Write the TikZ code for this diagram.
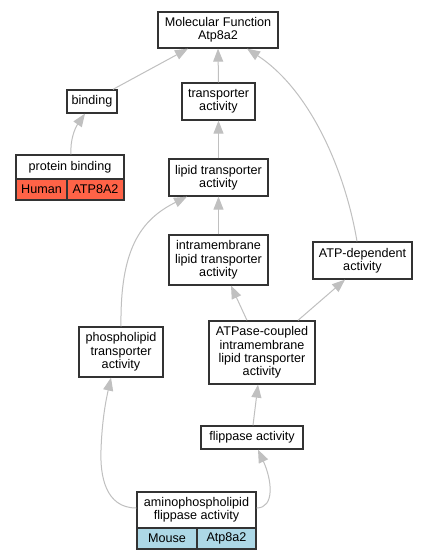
\documentclass[tikz,border=0pt]{standalone}
\usepackage{fontspec}
\setmainfont{Liberation Sans}
\usetikzlibrary{arrows.meta}
\definecolor{edgegray}{HTML}{C0C0C0}
\definecolor{boxline}{HTML}{333333}
\definecolor{human}{HTML}{FF6347}
\definecolor{mouse}{HTML}{ADD8E6}
\tikzset{
  gobox/.style={draw=boxline, line width=1.3pt, fill=white, inner sep=0pt, align=center,
    font=\fontsize{12.6}{13.4}\selectfont},
  cell/.style={gobox, line width=1.1pt},
  edge/.style={draw=edgegray, line width=1pt, -{Triangle[length=13pt,width=10pt]}, color=edgegray},
}
\begin{document}
\begin{tikzpicture}[x=1pt,y=-1pt]
\useasboundingbox (0,0) rectangle (428,560);
\fill[white] (0,0) rectangle (428,560);
% nodes
\node[gobox, minimum width=120pt, minimum height=36pt] (mf) at (218,30) {Molecular Function\\Atp8a2};
\node[gobox, minimum width=50pt, minimum height=23pt] (binding) at (92,101.5) {binding};
\node[gobox, minimum width=73pt, minimum height=37pt] (transp) at (218.5,101.5) {transporter\\activity};
\node[gobox, minimum width=108pt, minimum height=24pt] (pbind) at (70,167) {protein binding};
\node[cell, fill=human, minimum width=51pt, minimum height=21pt] (human) at (41.5,189.5) {Human};
\node[cell, fill=human, minimum width=57pt, minimum height=21pt] (hgene) at (95.5,189.5) {ATP8A2};
\node[gobox, minimum width=99pt, minimum height=37pt] (lipid) at (218.5,177.5) {lipid transporter\\activity};
\node[gobox, minimum width=99pt, minimum height=50pt] (intra) at (218.5,260) {intramembrane\\lipid transporter\\activity};
\node[gobox, minimum width=99pt, minimum height=37pt] (atpdep) at (362.5,260.5) {ATP-dependent\\activity};
\node[gobox, minimum width=84pt, minimum height=50pt] (phos) at (121,352) {phospholipid\\transporter\\activity};
\node[gobox, minimum width=106pt, minimum height=63pt] (atpase) at (262,352.5) {ATPase-coupled\\intramembrane\\lipid transporter\\activity};
\node[gobox, minimum width=102pt, minimum height=23pt] (flip) at (252,437.5) {flippase activity};
\node[gobox, minimum width=119pt, minimum height=36pt] (amino) at (196.5,510) {aminophospholipid\\flippase activity};
\node[cell, fill=mouse, minimum width=60pt, minimum height=21pt] (mouse) at (167,538.5) {Mouse};
\node[cell, fill=mouse, minimum width=59pt, minimum height=21pt] (mgene) at (226.5,538.5) {Atp8a2};
% edges
\draw[edge] ([xshift=21pt]binding.north) -- ([xshift=-30pt]mf.south);
\draw[edge] (transp.north) -- (mf.south);
\draw[edge] ([xshift=-5.5pt]atpdep.north) .. controls (345,170) and (310,90) .. ([xshift=29pt]mf.south);
\draw[edge] ([xshift=1pt]pbind.north) .. controls (70,140) and (75,128) .. ([xshift=-7pt]binding.south);
\draw[edge] (lipid.north) -- (transp.south);
\draw[edge] (intra.north) -- (lipid.south);
\draw[edge] (phos.north) .. controls (120,250) and (140,220) .. ([xshift=-31.5pt]lipid.south);
\draw[edge] ([xshift=-15pt]atpase.north) -- ([xshift=12.5pt]intra.south);
\draw[edge] ([xshift=36pt]atpase.north) -- ([xshift=-17.5pt]atpdep.south);
\draw[edge] ([xshift=1pt]flip.north) -- ([xshift=-4pt]atpase.south);
\draw[edge] ([yshift=2pt]amino.west) .. controls (105,508) and (100,475) .. (101,450) .. controls (102,420) and (106,400) .. ([xshift=-10pt]phos.south);
\draw[edge] ([yshift=2pt]amino.east) .. controls (275,508) and (272,480) .. ([xshift=6pt]flip.south);
\end{tikzpicture}
\end{document}
